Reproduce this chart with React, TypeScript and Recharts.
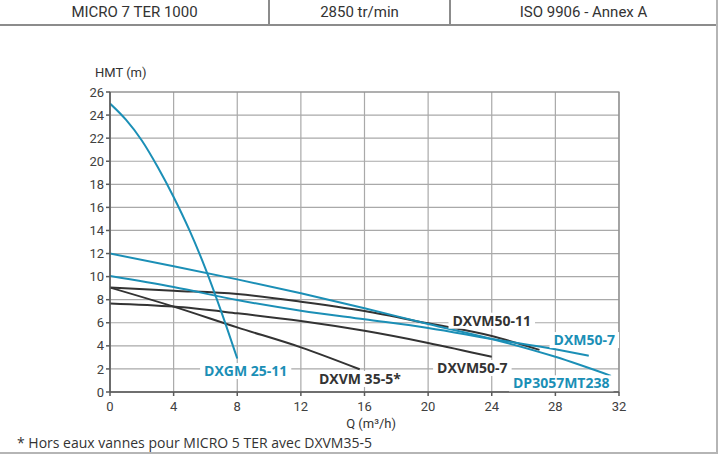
import { useLayoutEffect, useRef, useState } from 'react'
import { CartesianGrid, Line, LineChart, ReferenceArea, ReferenceDot, XAxis, YAxis } from 'recharts'

// Q (m3/h) and HMT (m)
const dxgm2511Q = [0, 1, 2, 3, 4, 5, 6, 7, 8]
const dxgm2511H = [25, 23.6, 21.8, 19.5, 16.9, 14.0, 10.7, 6.95, 2.9]

const dp3057Q = [0, 4, 8, 12, 16, 20, 24, 28, 31.5]
const dp3057H = [12, 10.9, 9.76, 8.55, 7.25, 5.9, 4.6, 3.05, 1.4]

const dxm507Q = [0, 4, 8, 12, 16, 20, 24, 28, 30.1]
const dxm507H = [10.05, 9.1, 7.97, 7.05, 6.3, 5.55, 4.6, 3.7, 3.15]

const dxvm5011Q = [0, 4, 8, 12, 16, 20, 24, 27]
const dxvm5011H = [9.05, 8.78, 8.49, 7.83, 7.02, 5.95, 4.85, 3.65]

const dxvm507Q = [0, 4, 8, 12, 16, 20, 24]
const dxvm507H = [7.68, 7.4, 6.82, 6.15, 5.3, 4.25, 3.05]

const dxvm355Q = [0, 4, 8, 12, 15.7]
const dxvm355H = [9.05, 7.4, 5.6, 3.87, 1.97]

const xTicks = [0, 4, 8, 12, 16, 20, 24, 28, 32]
const yTicks = [0, 2, 4, 6, 8, 10, 12, 14, 16, 18, 20, 22, 24, 26]

const headerCells = ['MICRO 7 TER 1000', '2850 tr/min', 'ISO 9906 - Annex A']

const BLUE = '#1b8fb6'
const DARK = '#333333'

const toPoints = (q: number[], h: number[]) => q.map((v, i) => ({ q: v, h: h[i] }))

const curves = [
  { name: 'DXVM 35-5*', data: toPoints(dxvm355Q, dxvm355H), color: DARK },
  { name: 'DXVM50-7', data: toPoints(dxvm507Q, dxvm507H), color: DARK },
  { name: 'DXVM50-11', data: toPoints(dxvm5011Q, dxvm5011H), color: DARK },
  { name: 'DXM50-7', data: toPoints(dxm507Q, dxm507H), color: BLUE },
  { name: 'DP3057MT238', data: toPoints(dp3057Q, dp3057H), color: BLUE },
  { name: 'DXGM 25-11', data: toPoints(dxgm2511Q, dxgm2511H), color: BLUE },
]

// where each curve name sits, in chart units
const curveLabels = [
  { text: 'DXGM 25-11', q: 8.53, h: 1.82, color: BLUE },
  { text: 'DXVM 35-5*', q: 15.71, h: 1.13, color: DARK },
  { text: 'DXVM50-7', q: 22.78, h: 2.08, color: DARK },
  { text: 'DXVM50-11', q: 24.0, h: 6.18, color: DARK },
  { text: 'DXM50-7', q: 29.82, h: 4.5, color: BLUE },
  { text: 'DP3057MT238', q: 28.37, h: 0.75, color: BLUE },
]

function CurveLabel(props: any) {
  const { viewBox, text, color } = props
  const ref = useRef<SVGTextElement>(null)
  const [w, setW] = useState(text.length * 8)
  useLayoutEffect(() => {
    if (ref.current) setW(ref.current.getBBox().width)
  }, [text])
  if (!viewBox) return null
  const cx = viewBox.x + (viewBox.width || 0) / 2
  const cy = viewBox.y + (viewBox.height || 0) / 2
  return (
    <g>
      <rect x={cx - w / 2 - 4} y={cy - 8} width={w + 8} height={16} fill="#ffffff" />
      <text
        ref={ref}
        x={cx}
        y={cy}
        dy="0.36em"
        textAnchor="middle"
        fill={color}
        fontFamily="'Open Sans', sans-serif"
        fontWeight={700}
        fontSize={14}
      >
        {text}
      </text>
    </g>
  )
}

const tickStyle = { fill: '#404040', fontSize: 13, fontFamily: 'Roboto, sans-serif' }

export default function App() {
  return (
    <div style={{ position: 'absolute', left: 0, top: 0, width: 720, height: 455, background: '#fff', fontFamily: 'Roboto, sans-serif' }}>
      <LineChart width={720} height={455} data={[]} margin={{ top: 92, right: 101, bottom: 33, left: 70 }}>
        <CartesianGrid stroke="#a9a9a9" strokeWidth={1.2} />
        <XAxis
          type="number"
          dataKey="q"
          domain={[0, 32]}
          ticks={xTicks}
          height={30}
          tickSize={4}
          tickMargin={6}
          tick={tickStyle}
          stroke="#5a5a5a"
          strokeWidth={1.5}
          allowDataOverflow
        />
        <YAxis
          type="number"
          dataKey="h"
          domain={[0, 26]}
          ticks={yTicks}
          width={40}
          tickSize={4}
          tickMargin={2}
          tick={tickStyle}
          stroke="#5a5a5a"
          strokeWidth={1.5}
          allowDataOverflow
        />
        <ReferenceArea x1={0} x2={32} y1={0} y2={26} fill="none" stroke="#8a8a8a" strokeWidth={1.2} />
        {curves.map((c) => (
          <Line
            key={c.name}
            data={c.data}
            dataKey="h"
            type="monotone"
            stroke={c.color}
            strokeWidth={2}
            dot={false}
            activeDot={false}
            isAnimationActive={false}
          />
        ))}
        {curveLabels.map((l) => (
          <ReferenceDot
            key={l.text}
            x={l.q}
            y={l.h}
            r={1}
            fill="none"
            stroke="none"
            label={<CurveLabel text={l.text} color={l.color} />}
          />
        ))}
      </LineChart>

      {/* header row */}
      <div style={{ position: 'absolute', left: 0, top: 0, width: 718, height: 24, borderBottom: '2px solid #8c8c8c' }} />
      {[269, 450, 717].map((x) => (
        <div key={x} style={{ position: 'absolute', left: x - 1, top: 0, width: 2, height: 25, background: '#8c8c8c' }} />
      ))}
      {headerCells.map((t, i) => {
        const edges = [0, 269, 450, 717]
        return (
          <div
            key={t}
            style={{
              position: 'absolute',
              left: edges[i],
              top: 0,
              width: edges[i + 1] - edges[i],
              height: 24,
              display: 'flex',
              alignItems: 'center',
              justifyContent: 'center',
              fontSize: 15,
              color: '#333',
            }}
          >
            {t}
          </div>
        )
      })}

      <div style={{ position: 'absolute', left: 95, top: 65, fontSize: 13, color: '#333', lineHeight: '16px' }}>HMT (m)</div>
      <div style={{ position: 'absolute', right: 720 - 396, top: 416, fontSize: 13, color: '#333', lineHeight: '16px', whiteSpace: 'nowrap' }}>
        Q (m³/h)
      </div>

      <div
        style={{
          position: 'absolute',
          left: 17,
          top: 434,
          fontSize: 14,
          color: '#333',
          fontFamily: "'Open Sans', sans-serif",
          lineHeight: '18px',
          whiteSpace: 'nowrap',
        }}
      >
        * Hors eaux vannes pour MICRO 5 TER avec DXVM35-5
      </div>
      {/* outer frame, right and bottom */}
      <div style={{ position: 'absolute', left: 716, top: 0, width: 2, height: 454, background: '#b5b5b5' }} />
      <div style={{ position: 'absolute', left: 0, top: 452, width: 718, height: 2, background: '#b5b5b5' }} />
    </div>
  )
}
